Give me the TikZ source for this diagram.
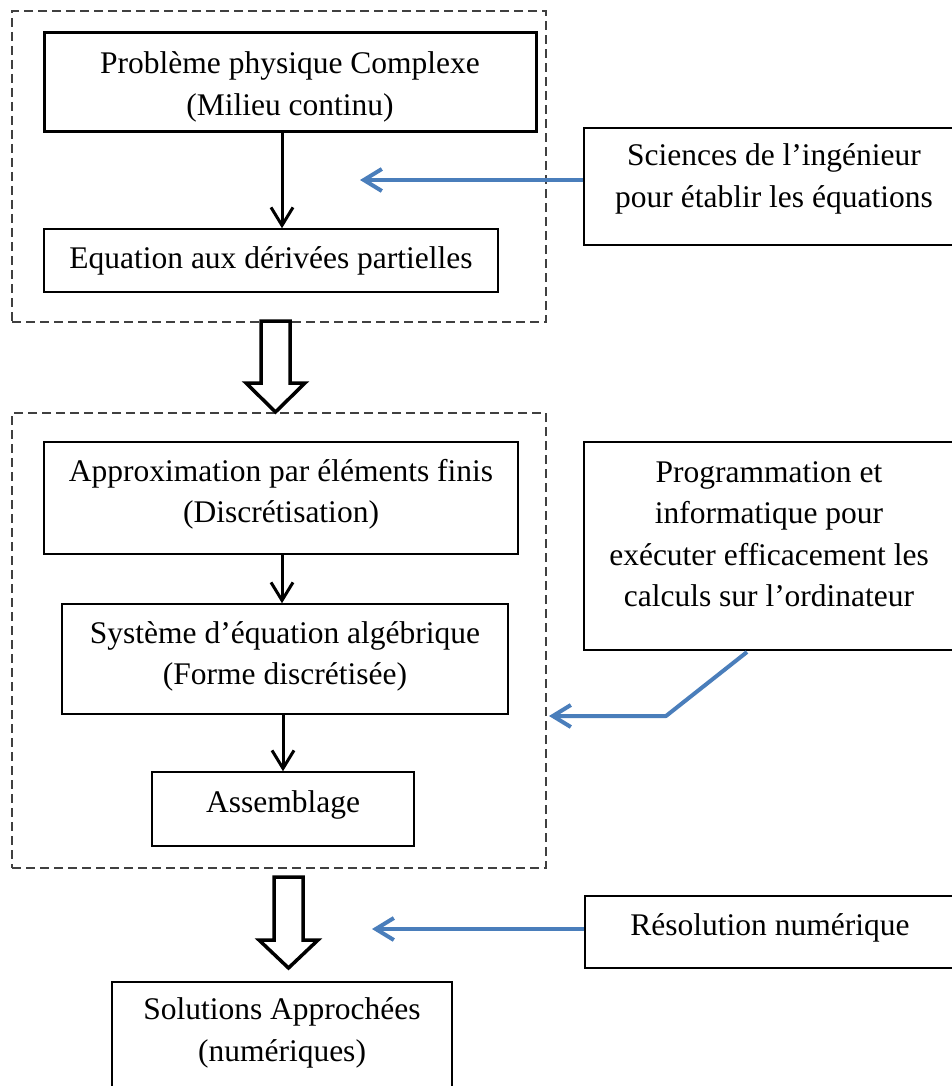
\documentclass[tikz,border=0pt]{standalone}
\usepackage{fontspec}
\setmainfont{Liberation Serif}
\usetikzlibrary{arrows.meta,calc}
\definecolor{arrblue}{HTML}{4A7EBB}
\definecolor{dashgray}{HTML}{404040}
\begin{document}
\begin{tikzpicture}[x=1pt,y=-1pt,
  box/.style={draw=black,line width=1.5pt,rectangle,inner sep=0pt},
  thickbox/.style={box,line width=3pt},
  dashbox/.style={draw=dashgray,line width=1.5pt,dash pattern=on 9pt off 5pt,rectangle,inner sep=0pt},
  txt/.style={anchor=base,align=center,inner sep=0pt,font=\fontsize{31.5}{41.5}\selectfont},
  blackarr/.style={draw=black,line width=3pt,-{Straight Barb[length=18pt,width=22pt,line width=3pt]}},
  bluearr/.style={draw=arrblue,line width=4pt,-{Straight Barb[length=18pt,width=22pt,line width=4pt]}},
  hollow/.style={draw=black,line width=3.5pt,fill=white,line join=miter}
]
\useasboundingbox (0,0) rectangle (952,1086);
\fill[white] (0,0) rectangle (952,1086);

% dashed groups
\node[dashbox,minimum width=534pt,minimum height=311pt] (dash1) at (279,166.5) {};
\node[dashbox,minimum width=534pt,minimum height=455pt] (dash2) at (279,640.5) {};

% boxes
\node[thickbox,minimum width=492pt,minimum height=99pt] (prob) at (290,82.5) {};
\node[box,minimum width=454pt,minimum height=63pt] (eq) at (271,260.5) {};
\node[box,minimum width=380pt,minimum height=117pt] (sci) at (774,186.5) {};
\node[box,minimum width=474pt,minimum height=112pt] (approx) at (281,498) {};
\node[box,minimum width=446pt,minimum height=110pt] (sys) at (285,659) {};
\node[box,minimum width=262pt,minimum height=74pt] (asm) at (283,809) {};
\node[box,minimum width=380pt,minimum height=208pt] (prog) at (774,546) {};
\node[box,minimum width=379pt,minimum height=72pt] (res) at (774.5,932) {};
\node[box,minimum width=340pt,minimum height=128pt] (sol) at (282,1046) {};

% texts (anchor = baseline of the last line)
\node[txt] (tprob) at (290,115.5) {Problème physique Complexe\\(Milieu continu)};
\node[txt] (teq) at (271,268) {Equation aux dérivées partielles};
\node[txt] (tsci) at (774,207.5) {Sciences de l’ingénieur\\pour établir les équations};
\node[txt] (tapprox) at (281,522.5) {Approximation par éléments finis\\(Discrétisation)};
\node[txt] (tsys) at (285,684.5) {Système d’équation algébrique\\(Forme discrétisée)};
\node[txt] (tasm) at (283,812) {Assemblage};
\node[txt] (tprog) at (769,606.5) {Programmation et\\informatique pour\\exécuter efficacement les\\calculs sur l’ordinateur};
\node[txt] (tres) at (770,935) {Résolution numérique};
\node[txt] (tsol) at (282,1061) {Solutions Approchées\\(numériques)};

% black arrows
\coordinate (c1) at (282,0);
\coordinate (c2) at (282,0);
\coordinate (c3) at (283,0);
\draw[blackarr] (prob.south -| c1) -- (eq.north -| c1);
\draw[blackarr] (approx.south -| c2) -- (sys.north -| c2);
\draw[blackarr] (sys.south -| c3) -- (asm.north -| c3);

% blue arrows
\coordinate (b1) at (360,180);
\draw[bluearr] (sci.west |- b1) -- (b1);
\coordinate (b2s) at (747,652);
\coordinate (b2m) at (666,716);
\coordinate (b2e) at (549,716);
\draw[bluearr,line join=round] (b2s) -- (b2m) -- (b2e);
\coordinate (b3) at (372,929);
\draw[bluearr] (res.west |- b3) -- (b3);

% hollow block arrows
\draw[hollow] (261,321) -- (290,321) -- (290,383) -- (305,383) -- (275.5,412) -- (246,383) -- (261,383) -- cycle;
\draw[hollow] (274,877) -- (303,877) -- (303,940) -- (318,940) -- (288.5,968) -- (259,940) -- (274,940) -- cycle;
\end{tikzpicture}
\end{document}
